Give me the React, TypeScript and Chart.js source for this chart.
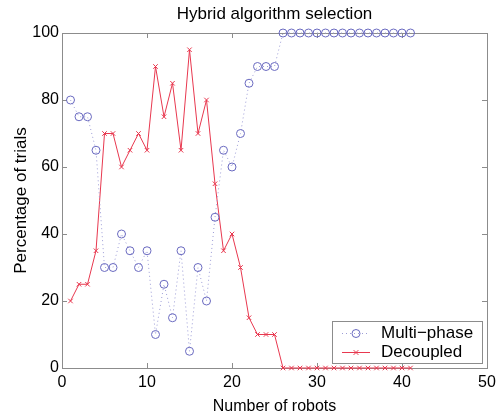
import React, { useEffect, useRef } from "react";
import { Chart, registerables } from "chart.js";

Chart.register(...registerables);

const robots = Array.from({ length: 41 }, (_, i) => i + 1);
const multiPhase = [80, 75, 75, 65, 30, 30, 40, 35, 30, 35, 10, 25, 15, 35, 5, 30, 20, 45, 65, 60, 70, 85, 90, 90, 90,
  100, 100, 100, 100, 100, 100, 100, 100, 100, 100, 100, 100, 100, 100, 100, 100];
const decoupled = [20, 25, 25, 35, 70, 70, 60, 65, 70, 65, 90, 75, 85, 65, 95, 70, 80, 55, 35, 40, 30, 15, 10, 10, 10,
  0, 0, 0, 0, 0, 0, 0, 0, 0, 0, 0, 0, 0, 0, 0, 0];
const seriesLabels = ["Multi\u2212phase", "Decoupled"];
const chartTitle = "Hybrid algorithm selection";
const xTitle = "Number of robots";
const yTitle = "Percentage of trials";

const BLUE = "#6a6ac0";
const BLUE_LINE = "#9c9cd6";
const RED = "#e8384f";
const FONT = "'Liberation Sans', Arial, sans-serif";

const framePlugin = {
  id: "frame",
  beforeDatasetsDraw(chart: any) {
    const { ctx, chartArea, scales } = chart;
    const { left, right, top, bottom } = chartArea;
    ctx.save();
    ctx.strokeStyle = "#8c8c8c";
    ctx.lineWidth = 1;
    ctx.strokeRect(Math.round(left) + 0.5, Math.round(top) + 0.5, Math.round(right - left), Math.round(bottom - top));
    const tl = 5;
    ctx.beginPath();
    scales.x.ticks.forEach((t: any) => {
      const px = Math.round(scales.x.getPixelForValue(t.value)) + 0.5;
      ctx.moveTo(px, bottom); ctx.lineTo(px, bottom - tl);
      ctx.moveTo(px, top); ctx.lineTo(px, top + tl);
    });
    scales.y.ticks.forEach((t: any) => {
      const py = Math.round(scales.y.getPixelForValue(t.value)) + 0.5;
      ctx.moveTo(left, py); ctx.lineTo(left + tl, py);
      ctx.moveTo(right, py); ctx.lineTo(right - tl, py);
    });
    ctx.stroke();
    ctx.restore();
  },
  afterDatasetsDraw(chart: any) {
    const { ctx, chartArea } = chart;
    const bx = Math.round(chartArea.right) - 155;
    const by = Math.round(chartArea.bottom) - 47;
    const bw = 150, bh = 42;
    ctx.save();
    ctx.fillStyle = "#fff";
    ctx.fillRect(bx, by, bw, bh);
    ctx.strokeStyle = "#8c8c8c";
    ctx.lineWidth = 1;
    ctx.strokeRect(bx + 0.5, by + 0.5, bw, bh);
    chart.data.datasets.forEach((ds: any, i: number) => {
      const cy = by + 12 + i * 19 + 0.5;
      const x0 = bx + 10, x1 = bx + 38, cx = (x0 + x1) / 2;
      ctx.strokeStyle = ds.borderColor;
      ctx.lineWidth = 1;
      ctx.setLineDash(ds.borderDash || []);
      ctx.beginPath(); ctx.moveTo(x0, cy); ctx.lineTo(x1, cy); ctx.stroke();
      ctx.setLineDash([]);
      ctx.strokeStyle = ds.pointBorderColor;
      ctx.beginPath();
      if (ds.pointStyle === "circle") {
        ctx.arc(cx, cy, ds.pointRadius, 0, Math.PI * 2);
      } else {
        const r = ds.pointRadius * 0.75;
        ctx.moveTo(cx - r, cy - r); ctx.lineTo(cx + r, cy + r);
        ctx.moveTo(cx - r, cy + r); ctx.lineTo(cx + r, cy - r);
      }
      ctx.stroke();
      ctx.fillStyle = "#000";
      ctx.font = `17px ${FONT}`;
      ctx.textBaseline = "middle";
      ctx.textAlign = "left";
      ctx.fillText(ds.label, bx + 49, cy);
    });
    ctx.restore();
  },
};

export default function App() {
  const ref = useRef<HTMLCanvasElement>(null);
  useEffect(() => {
    if (!ref.current) return;
    const chart = new Chart(ref.current, {
      type: "line",
      data: {
        datasets: [
          {
            label: seriesLabels[0],
            data: robots.map((r, i) => ({ x: r, y: multiPhase[i] })),
            borderColor: BLUE_LINE,
            borderWidth: 1,
            borderDash: [1, 3],
            pointStyle: "circle",
            pointRadius: 4,
            pointBorderColor: BLUE,
            pointBackgroundColor: "rgba(0,0,0,0)",
            pointBorderWidth: 1,
            tension: 0,
            clip: false,
          } as any,
          {
            label: seriesLabels[1],
            data: robots.map((r, i) => ({ x: r, y: decoupled[i] })),
            borderColor: RED,
            borderWidth: 1,
            pointStyle: "crossRot",
            pointRadius: 3.2,
            pointBorderColor: RED,
            pointBackgroundColor: RED,
            pointBorderWidth: 1,
            tension: 0,
            clip: false,
          } as any,
        ],
      },
      options: {
        animation: false,
        responsive: false,
        layout: { padding: { left: 0, right: 14, top: 0, bottom: 0 } },
        plugins: {
          legend: { display: false },
          tooltip: { enabled: false },
          title: {
            display: true,
            fullSize: false,
            text: chartTitle,
            color: "#000",
            font: { family: FONT, size: 17, weight: "normal" as any, lineHeight: 1.2 },
            padding: { top: 4, bottom: 8.6 },
          },
        },
        scales: {
          x: {
            type: "linear",
            min: 0,
            max: 50,
            ticks: { stepSize: 10, color: "#000", font: { family: FONT, size: 16 }, padding: 5, maxRotation: 0 },
            grid: { display: false, drawTicks: false },
            border: { display: false },
            title: { display: true, text: xTitle, color: "#000", font: { family: FONT, size: 16, lineHeight: 1 }, padding: { top: 0, bottom: 0 } },
            afterFit(scale: any) { scale.height = 47; },
          },
          y: {
            min: 0,
            max: 100,
            ticks: { stepSize: 20, color: "#000", font: { family: FONT, size: 16 }, padding: 3 },
            grid: { display: false, drawTicks: false },
            border: { display: false },
            title: { display: true, text: yTitle, color: "#000", font: { family: FONT, size: 17 }, padding: { top: 11, bottom: 0 } },
            afterFit(scale: any) { scale.width = 62; },
          },
        },
      },
      plugins: [framePlugin],
    });
    return () => chart.destroy();
  }, []);
  return (
    <div style={{ position: "fixed", left: 0, top: 0, width: 501, height: 415, background: "#fff" }}>
      <canvas ref={ref} width={501} height={415} style={{ display: "block" }} />
    </div>
  );
}
